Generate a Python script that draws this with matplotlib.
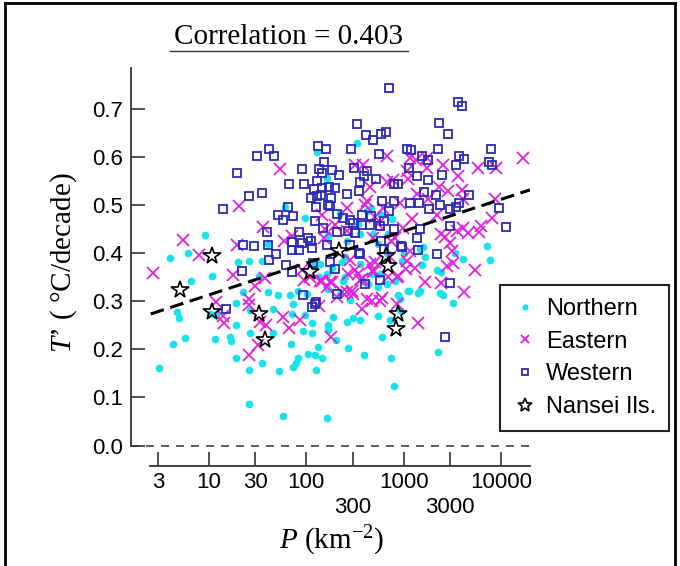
import numpy as np
import matplotlib
matplotlib.use("Agg")
import matplotlib.pyplot as plt
from matplotlib.lines import Line2D
from matplotlib.ticker import FixedLocator, FixedFormatter, NullLocator

plt.rcParams['font.family'] = 'Liberation Sans'
plt.rcParams['mathtext.fontset'] = 'custom'
plt.rcParams['mathtext.rm'] = 'Liberation Serif'
plt.rcParams['mathtext.it'] = 'Liberation Serif:italic'

# population density P (km^-2) and warming trend T' (degC/decade)
north_p = [128, 60.4, 97.0, 9.10, 6.04, 3.97, 40.7, 330, 162, 222, 462, 356, 572, 697,
           7140, 1592, 3370, 7720, 260, 10.7, 6.53, 20.0, 26.0, 34.8, 32.9, 40.7, 51.5,
           67.9, 22.5, 18.9, 4.72, 4.95, 10.2, 11.8, 26.4, 45.2, 73.5, 71.8, 97.0, 114,
           93.1, 18.9, 26.4, 16.4, 16.8, 11.5, 5.67, 4.30, 45.8, 69.2, 114, 133, 105, 123,
           144, 81.6, 77.8, 72.4, 52.8, 34.8, 26.0, 18.9, 3.09, 126, 26.0, 57.2, 162, 101,
           135, 4050, 2190, 2420, 1535, 1145, 1396, 2366, 2550, 3240, 882, 918, 670, 550,
           281, 222, 550, 918, 724, 356, 304, 189, 264, 168, 168, 202, 270, 394, 596, 736,
           2270, 797, 168, 385, 1016, 1474, 1660, 240, 572, 470, 231, 138, 162,
           168, 342, 550, 488, 816, 1117, 1474, 82.8, 356, 250, 182, 123, 670, 955, 250,
           434, 418, 755]
north_t = [.610, .496, .474, .437, .401, .390, .419, .629, .556, .484, .493, .439, .481, .439,
           .414, .412, .401, .386, .426, .353, .343, .381, .384, .384, .352, .319, .312,
           .312, .319, .296, .277, .266, .273, .271, .281, .284, .295, .274, .271, .254,
           .238, .250, .233, .226, .217, .221, .223, .211, .233, .212, .233, .204, .190, .188,
           .181, .181, .172, .164, .155, .171, .157, .182, .162, .158, .087, .061, .058, .315,
           .350, .388, .365, .360, .376, .321, .317, .317, .312, .297, .312, .304, .336, .329,
           .303, .315, .269, .282, .262, .262, .266, .267, .257, .250, .241, .219, .203, .188,
           .226, .181, .195, .123, .326, .343, .401, .408, .391, .343, .357, .357, .381, .377,
           .357,
           .436, .460, .419, .439, .343, .322, .322, .322, .377, .391, .370, .377, .401, .384,
           .350, .336, .488, .470]

east_p = [53.7, 20.3, 144, 36.1, 59.0, 70.8, 19.3, 5.37, 7.95, 153, 670, 1164, 1340, 1727,
          17000, 316, 380, 1076, 1727, 2520, 5860, 8910, 3650, 773, 1117, 452, 670, 2330,
          2840, 3950, 1364, 1795, 418, 401, 918, 4050, 8690, 260, 610, 508, 1211, 2190, 8040,
          197, 4110, 6200, 979, 2420, 2660, 3510, 4620, 6000, 3000, 488, 748, 2.64, 17.5,
          29.7, 25.8, 25.8, 37.6, 11.8, 14.0, 14.3, 33.4, 38.5, 58.0, 66.4, 86.1, 94.7, 136,
          31.6, 26.0, 5420, 2770, 3240, 3120, 1660, 2420, 4210, 1416, 178, 572, 371, 418,
          304, 264, 175, 138, 356, 452, 488, 861, 1059, 1076, 724, 281, 270, 342, 162, 231,
          156, 260, 550, 816, 89.7, 109, 144, 182, 316, 371, 508, 488, 697, 882, 1164, 1310,
          470, 596, 293, 205, 853]
east_t = [.574, .499, .479, .455, .426, .436, .417, .428, .397, .432, .603, .598, .594, .598,
          .598, .583, .584, .570, .577, .583, .578, .578, .560, .553, .555, .537, .548, .537,
          .529, .532, .523, .512, .508, .500, .505, .512, .512, .494, .494, .475, .472, .479,
          .474, .458, .453, .457, .453, .439, .434, .446, .441, .443, .422, .432, .426, .359,
          .355, .331, .305, .293, .349, .298, .269, .254, .257, .250, .267, .245, .262, .345,
          .291, .209, .189, .365, .374, .379, .405, .339, .337, .320, .254, .225, .300, .284,
          .305, .315, .319, .339, .343, .344, .377, .364, .351, .367, .384, .391, .386, .357,
          .357, .329, .319,
          .450, .446, .460, .432, .364, .350, .342, .339, .364, .346, .381, .360, .350, .353,
          .405, .370, .300, .306, .322, .308, .295]

west_p = [133, 41.7, 30.9, 46.9, 19.3, 89.7, 136, 144, 66.4, 95.3, 130, 120, 144, 128, 112,
          141, 34.8, 25.8, 14.0, 65.3, 125, 166, 50.8, 57.2, 73.5, 124, 39.2, 84.1, 147, 164,
          105, 70.8, 89.7, 22.5, 29.0, 40.7, 71.8, 84.1, 114, 48.8, 703, 3620, 3980, 332,
          2310, 411, 488, 582, 655, 2840, 158, 288, 558, 1076, 1190, 2270, 7850, 1545, 1770,
          3680, 4180, 7600, 8040, 152, 185, 215, 309, 418, 394, 520, 356, 1145, 1364, 1795,
          2480, 3430, 170, 197, 802, 882, 264, 348, 179, 1630, 2150, 4730, 175, 596, 802,
          1164, 1440, 1837, 2366, 3000, 3430, 3710, 9620, 708, 205, 237, 281, 371, 459, 304,
          371, 208, 266, 316, 452, 572, 629, 797, 1474, 1364, 3000, 11270, 582, 934, 1396,
          2190, 351, 281, 111, 41.7, 61.4, 70.8, 21.7, 14.8, 93.1, 126, 114, 356, 955, 175,
          197, 118, 401, 572, 629, 3000, 205, 123, 2660]
west_t = [.623, .617, .603, .601, .567, .574, .576, .567, .543, .543, .550, .534, .536, .519,
          .515, .521, .525, .519, .491, .496, .496, .501, .479, .468, .477, .467, .445, .445,
          .452, .417, .432, .424, .422, .417, .415, .417, .406, .406, .410, .399, .744, .715,
          .705, .668, .670, .645, .636, .647, .651, .647, .617, .617, .607, .617, .615, .617,
          .617, .603, .594, .603, .596, .589, .584, .589, .572, .563, .577, .570, .561, .555,
          .548, .578, .560, .553, .562, .584, .537, .536, .543, .544, .522, .530, .515, .527,
          .521, .520, .499, .508, .508, .505, .505, .492, .501, .491, .496, .505, .494, .488,
          .482, .474, .468, .479, .477, .463, .459, .443, .446, .442, .459, .457, .467, .450,
          .450, .432, .457, .455, .426, .415, .406, .398, .400, .417, .426, .386, .375, .360,
          .362, .284, .312, .298, .288, .398, .413, .381, .368, .379, .336, .344, .408, .337,
          .315, .295, .226]

nansei_p = [5.04, 10.7, 10.8, 32.9, 37.6, 110, 218, 664, 697, 882, 835]
nansei_t = [.324, .395, .277, .274, .219, .360, .405, .394, .374, .274, .243]

# regression line T' = a + b*log10(P)
fit_a = 0.247
fit_b = 0.0662
correlation = 0.403

yticks = [0.0, 0.1, 0.2, 0.3, 0.4, 0.5, 0.6, 0.7]
xticks = [3, 10, 30, 100, 300, 1000, 3000, 10000]
xlabels = ['3', '10', '30', '100', '\n300', '1000', '\n3000', '10000']

fig = plt.figure(figsize=(6.8, 5.66), dpi=100)
ax = fig.add_axes([131/680, 1-466/566, 399/680, 398/566])
ax.set_xscale('log')
ax.set_xlim(1.58, 19900)
ax.set_ylim(-0.0426, 0.785)

ax.axhline(0, color='#444444', lw=1.2, dashes=(4.8, 4.2), zorder=1)

ax.plot(north_p, north_t, 'o', color='#16e4ea', ms=5.5, mec='none', label='Northern', zorder=2)
ax.plot(east_p, east_t, 'x', color='#e020e0', ms=8, mew=1.3, label='Eastern', zorder=3)
ax.plot(west_p, west_t, 's', color='#2a2ab8', mfc='none', ms=6, mew=1.3, label='Western', zorder=4)

xx = np.array([2.52, 19900])
ax.plot(xx, fit_a + fit_b*np.log10(xx), color='black', lw=2.2, dashes=(4.5, 2.2), zorder=5)

ax.plot(nansei_p, nansei_t, '*', color='black', mfc='none', ms=13, mew=1.2,
        label='Nansei Ils.', zorder=6)

for s in ['top', 'right']:
    ax.spines[s].set_visible(False)
ax.spines['left'].set_bounds(0, 0.785)
ax.spines['bottom'].set_bounds(2.5, 19900)
for s in ['left', 'bottom']:
    ax.spines[s].set_linewidth(1.3)
    ax.spines[s].set_color('#333333')

ax.yaxis.set_major_locator(FixedLocator(yticks))
ax.yaxis.set_major_formatter(FixedFormatter(['%.1f' % v for v in yticks]))
ax.xaxis.set_major_locator(FixedLocator(xticks))
ax.xaxis.set_major_formatter(FixedFormatter(xlabels))
ax.xaxis.set_minor_locator(NullLocator())
ax.tick_params(direction='in', length=10, width=1.2, color='#333333', labelsize=16)
ax.tick_params(axis='y', pad=6)
ax.tick_params(axis='x', pad=4)
for lab in ax.get_xticklabels():
    lab.set_linespacing(1.3)

leg = ax.legend(loc='upper left', bbox_to_anchor=(500/680, 1-285/566),
                bbox_transform=fig.transFigure, fontsize=17, fancybox=False,
                edgecolor='#222222', framealpha=1, borderpad=0.55, labelspacing=0.45,
                handlelength=1.0, handletextpad=0.4, borderaxespad=0, markerscale=0.8)
leg.get_frame().set_linewidth(1.5)

fig.text(288/680, 1-37/566, 'Correlation = %.3f' % correlation, family='Liberation Serif',
         fontsize=21, ha='center', va='center')
fig.add_artist(Line2D([170/680, 408/680], [1-51/566, 1-51/566], color='#333333', lw=1))
fig.text(64/680, 1-263/566, "$T$’ ( °C/decade)", family='Liberation Serif', fontsize=21,
         rotation=90, ha='center', va='center')
fig.text(332/680, 1-541/566, "$P$ ($\\rm km^{-2}$)", family='Liberation Serif', fontsize=21,
         ha='center', va='center')

# outer frame
fig.add_artist(Line2D([5/680, 5/680], [0, 1-3/566], color='black', lw=2))
fig.add_artist(Line2D([5/680, 675/680], [1-3/566, 1-3/566], color='black', lw=2))
fig.add_artist(Line2D([675/680, 675/680], [0, 1-3/566], color='black', lw=2))

fig.savefig('out.png', dpi=100)
